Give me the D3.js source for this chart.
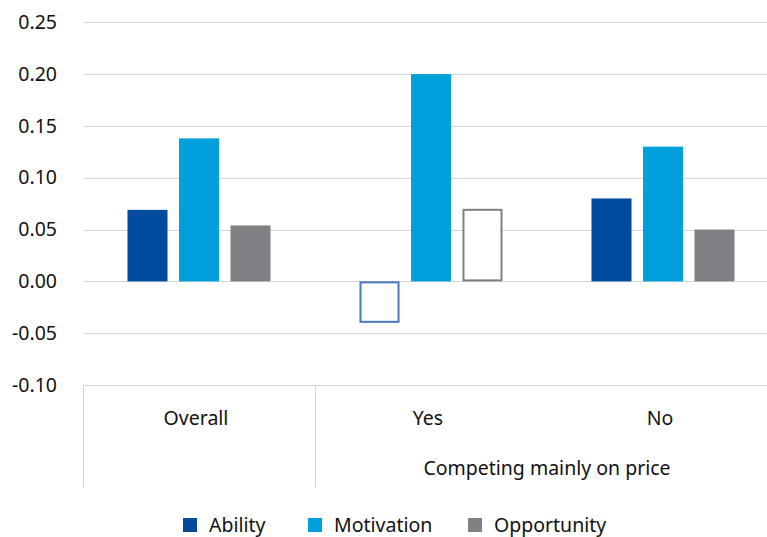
<!DOCTYPE html>
<html>
<head>
<meta charset="utf-8">
<script src="https://cdn.jsdelivr.net/npm/d3@7"></script>
<style>
  html, body { margin: 0; padding: 0; background: #fff; }
  svg { display: block; font-family: "Noto Sans", "Open Sans", sans-serif; }
</style>
</head>
<body>
<svg id="chart" width="767" height="537"></svg>
<script>
// Categories along the x axis and the grouping label beneath two of them
const categories = ["Overall", "Yes", "No"];
const groupLabel = "Competing mainly on price";

// Series and their values per category
const series = ["Ability", "Motivation", "Opportunity"];
const ability = [0.069, -0.04, 0.08];
const motivation = [0.138, 0.20, 0.13];
const opportunity = [0.054, 0.07, 0.05];

// Bars drawn as outlines only (not significant): [category, series]
const hollow = [["Yes", "Ability"], ["Yes", "Opportunity"]];

const yTicks = [-0.10, -0.05, 0.00, 0.05, 0.10, 0.15, 0.20, 0.25];

const colors = { Ability: "#004B9E", Motivation: "#00A0DC", Opportunity: "#808184" };
const outlineColors = { Ability: "#4A77C2", Motivation: "#00A0DC", Opportunity: "#808184" };

const values = { Ability: ability, Motivation: motivation, Opportunity: opportunity };
const rows = [];
categories.forEach((c, i) => {
  series.forEach(s => {
    rows.push({ cat: c, series: s, value: values[s][i],
      hollow: hollow.some(h => h[0] === c && h[1] === s) });
  });
});

const svg = d3.select("#chart");
const plot = { left: 83, right: 779, top: 22.3, bottom: 385 };
const fontSize = 19.5;
const textColor = "#111";

const y = d3.scaleLinear().domain([-0.10, 0.25]).range([plot.bottom, plot.top]);
const x0 = d3.scaleBand().domain(categories).range([plot.left, plot.right]).padding(0);
const x1 = d3.scaleBand().domain(series).range([0, x0.bandwidth()])
  .paddingInner(0.223).paddingOuter(0.864);

const gridColor = "#d4d4d4";

// Horizontal gridlines
svg.append("g").selectAll("line").data(yTicks).join("line")
  .attr("x1", plot.left).attr("x2", 767)
  .attr("y1", d => Math.round(y(d)) + 0.5).attr("y2", d => Math.round(y(d)) + 0.5)
  .attr("stroke", gridColor).attr("stroke-width", 1);

// Y axis labels
const yAxis = d3.axisLeft(y).tickValues(yTicks).tickFormat(d3.format(".2f")).tickSize(0).tickPadding(0);
const yg = svg.append("g").attr("transform", "translate(57,0)").call(yAxis);
yg.select(".domain").remove();
yg.selectAll("text").attr("font-size", fontSize).attr("fill", textColor)
  .attr("font-family", "'Noto Sans', sans-serif")
  .text(d => d3.format(".2f")(d).replace("−", "-"));

// Bars
const bars = svg.append("g");
bars.selectAll("rect").data(rows).join("rect")
  .attr("x", d => x0(d.cat) + x1(d.series) + (d.hollow ? 1 : 0))
  .attr("width", d => x1.bandwidth() - (d.hollow ? 2 : 0))
  .attr("y", d => y(Math.max(0, d.value)) + (d.hollow ? 1 : 0))
  .attr("height", d => Math.abs(y(d.value) - y(0)) - (d.hollow ? 2 : 0))
  .attr("fill", d => d.hollow ? "#fff" : colors[d.series])
  .attr("stroke", d => d.hollow ? outlineColors[d.series] : "none")
  .attr("stroke-width", 2);

// Category axis: separators below the plot
const sepX = [plot.left, x0("Yes")];
svg.append("g").selectAll("line").data(sepX).join("line")
  .attr("x1", d => Math.round(d) + 0.5).attr("x2", d => Math.round(d) + 0.5)
  .attr("y1", plot.bottom).attr("y2", 487)
  .attr("stroke", gridColor).attr("stroke-width", 1);

// Category labels
svg.append("g").selectAll("text").data(categories).join("text")
  .attr("x", d => x0(d) + x0.bandwidth() / 2 - 3)
  .attr("y", 425)
  .attr("text-anchor", "middle")
  .attr("font-size", fontSize).attr("fill", textColor)
  .text(d => d);

// Grouping label spanning Yes and No
svg.append("text")
  .attr("x", (x0("Yes") + x0("No") + x0.bandwidth()) / 2)
  .attr("y", 475)
  .attr("text-anchor", "middle")
  .attr("font-size", fontSize).attr("fill", textColor)
  .text(groupLabel);

// Legend
const legendX = [183, 308, 468];
const legend = svg.append("g").selectAll("g").data(series).join("g")
  .attr("transform", (d, i) => `translate(${legendX[i]},518)`);
legend.append("rect").attr("width", 14).attr("height", 14).attr("fill", d => colors[d]);
legend.append("text").attr("x", 26).attr("y", 14)
  .attr("font-size", fontSize).attr("fill", textColor).text(d => d);
</script>
</body>
</html>
